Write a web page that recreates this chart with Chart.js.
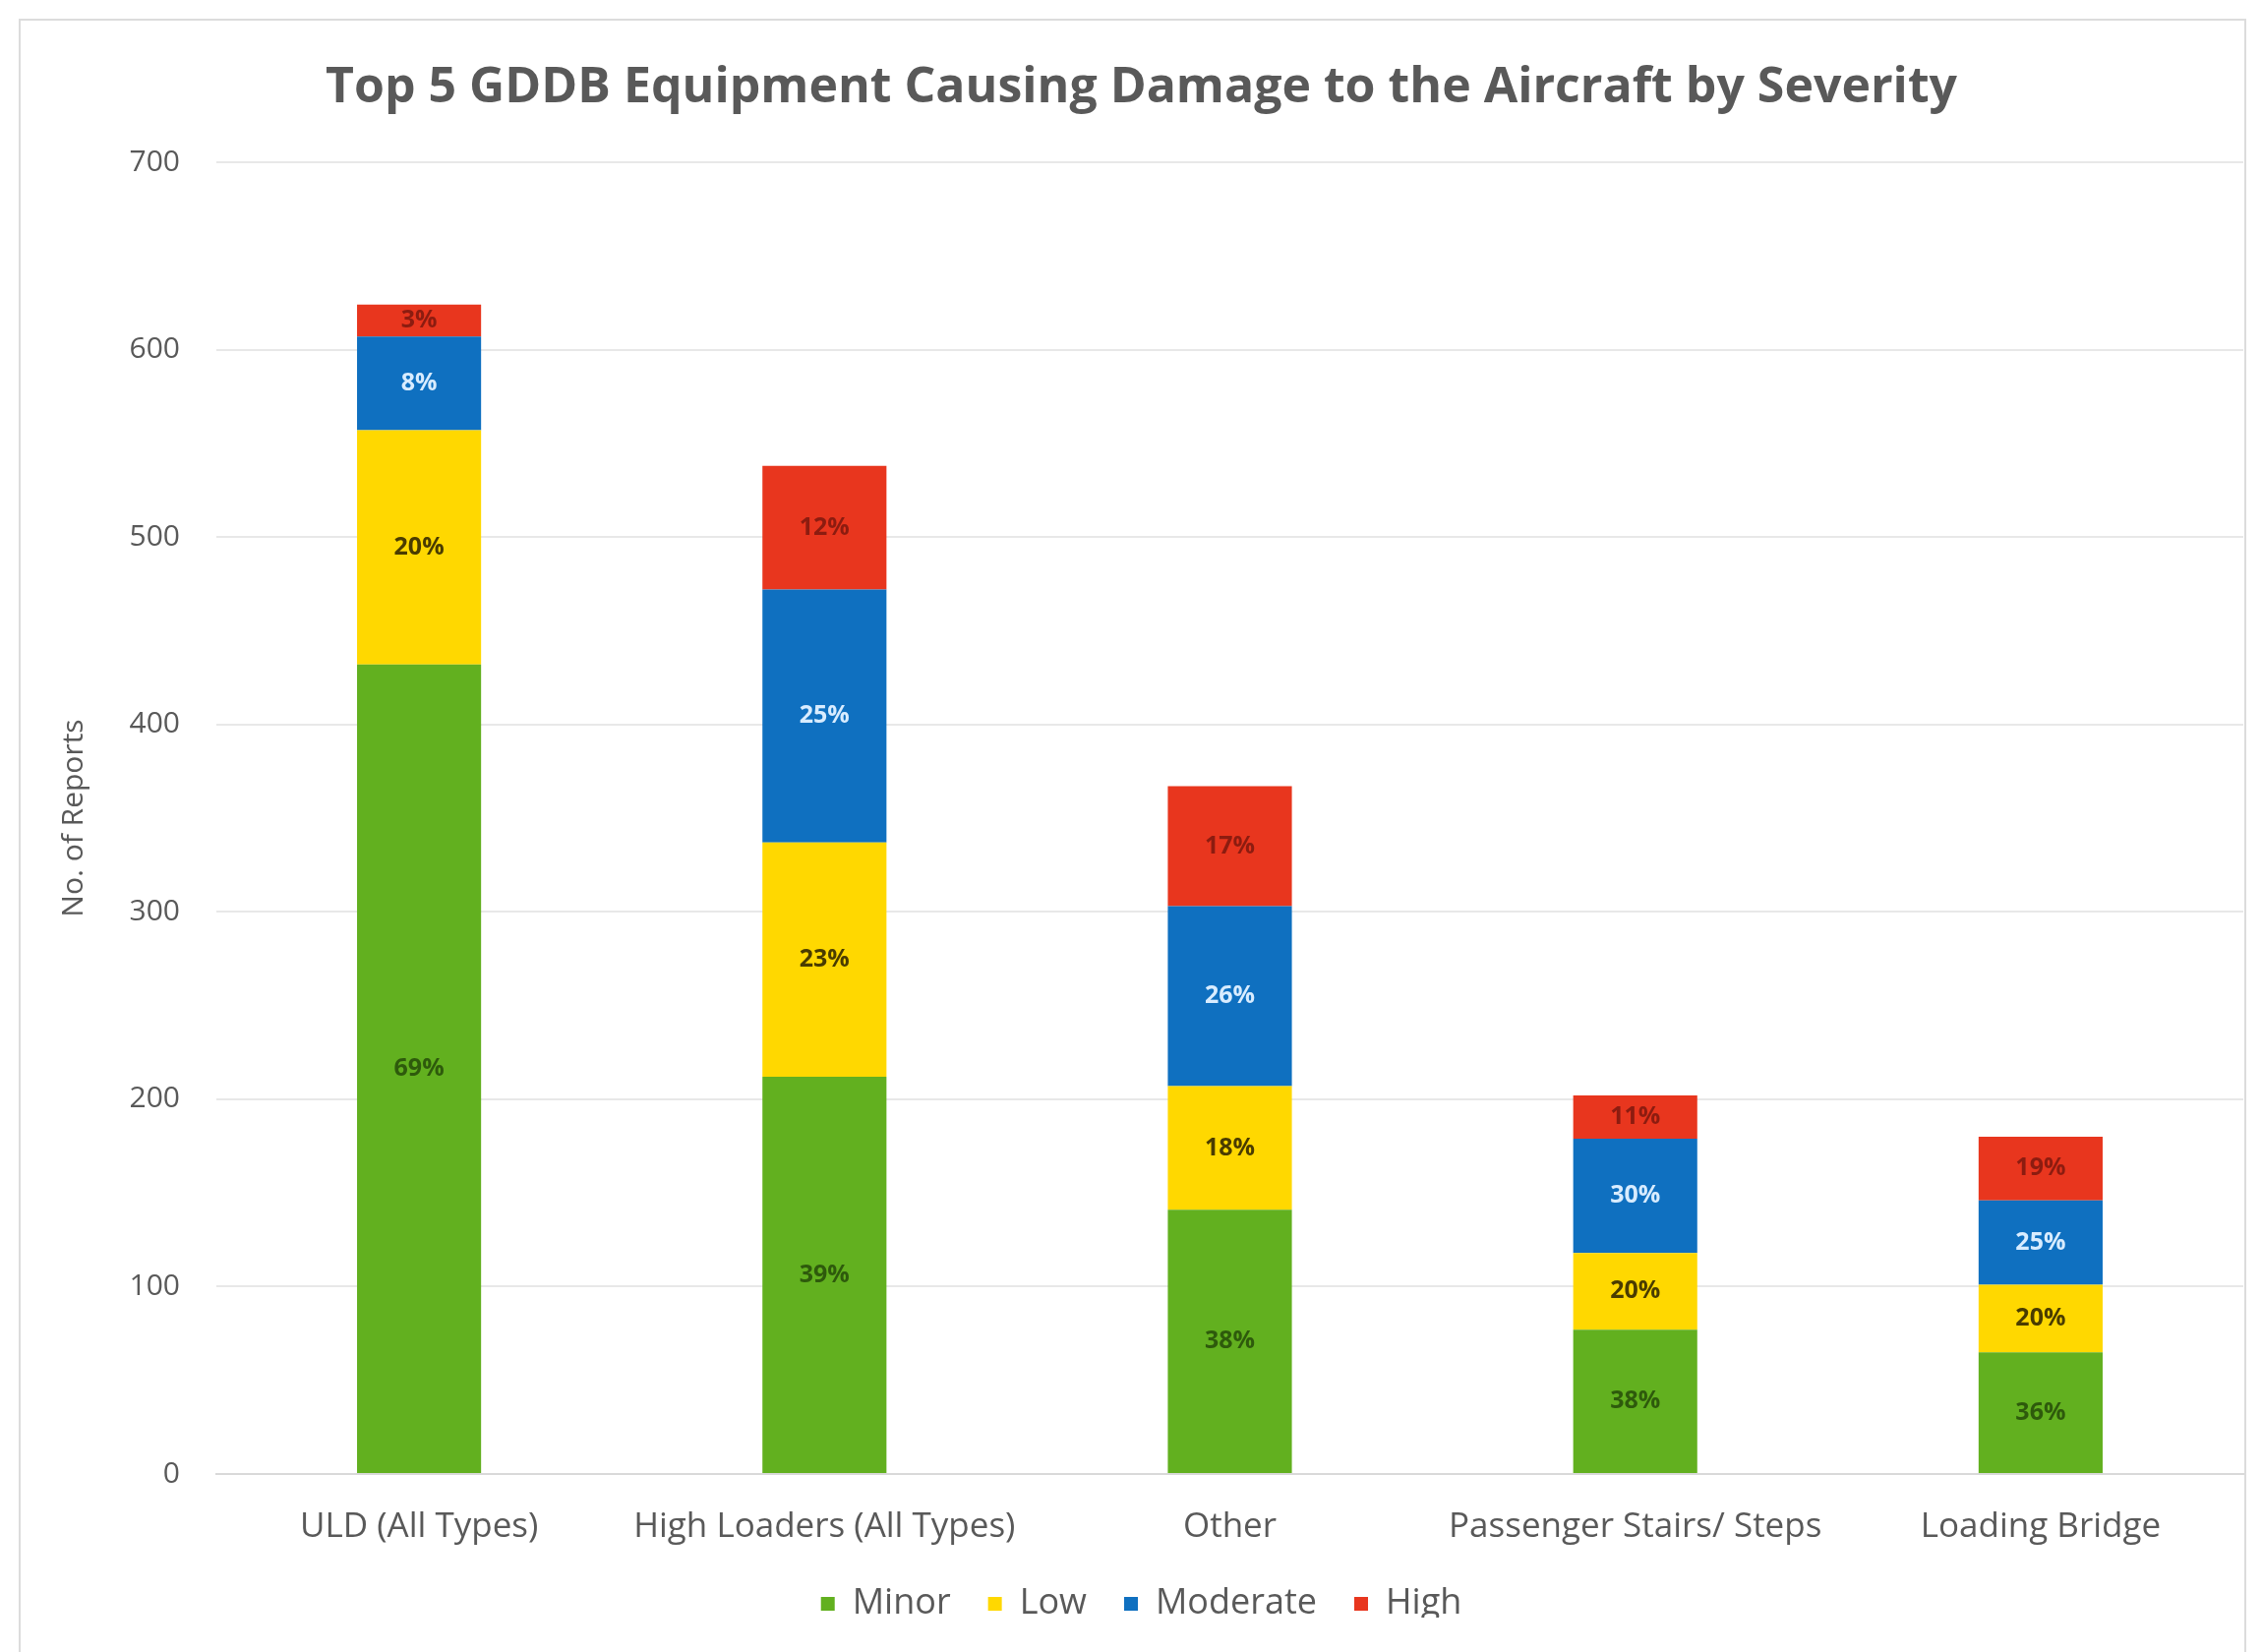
<!DOCTYPE html>
<html>
<head>
<meta charset="utf-8">
<title>Top 5 GDDB Equipment Causing Damage to the Aircraft by Severity</title>
<script src="https://cdn.jsdelivr.net/npm/chart.js@4.4.1/dist/chart.umd.min.js"></script>
<style>
  html, body { margin: 0; padding: 0; background: #fff; }
  #wrap { position: relative; width: 2300px; height: 1680px; overflow: hidden; }
  #chart { position: absolute; left: 0; top: 0; }
  #frame { position: absolute; left: 19px; top: 19px; width: 2261px; height: 1720px; border: 2px solid #dcdcdc; pointer-events: none; }
</style>
</head>
<body>
<div id="wrap">
  <canvas id="chart" width="2300" height="1680"></canvas>
  <div id="frame"></div>
</div>
<script>
// equipment types and report counts per severity
const categories = ['ULD (All Types)', 'High Loaders (All Types)', 'Other', 'Passenger Stairs/ Steps', 'Loading Bridge'];
const minor    = [432, 212, 141, 77, 65];
const low      = [125, 125,  66, 41, 36];
const moderate = [ 50, 135,  96, 61, 45];
const high     = [ 17,  66,  64, 23, 34];

const severityNames = ['Minor', 'Low', 'Moderate', 'High'];
const yMax = 700;
const yStep = 100;

const totals = categories.map((c, i) => minor[i] + low[i] + moderate[i] + high[i]);

const textColor = '#595959';
const fillColors = ['#62B01F', '#FFD800', '#0F70C0', '#E8361E'];
const pctColors = ['#2E5A0C', '#4A3C00', '#D8ECFF', '#8C1C10'];

Chart.defaults.font.family = '"Open Sans", "Liberation Sans", sans-serif';

// percentage of each bar's total, written in the middle of every segment
const segmentLabels = {
    id: 'segmentLabels',
    afterDatasetsDraw(chart) {
        const ctx = chart.ctx;
        ctx.save();
        ctx.font = 'bold 25px "Open Sans", sans-serif';
        ctx.textAlign = 'center';
        ctx.textBaseline = 'middle';
        chart.data.datasets.forEach((ds, i) => {
            const meta = chart.getDatasetMeta(i);
            meta.data.forEach((bar, j) => {
                const pct = Math.round(ds.data[j] / totals[j] * 100) + '%';
                ctx.fillStyle = pctColors[i];
                ctx.fillText(pct, bar.x, (bar.y + bar.base) / 2);
            });
        });
        ctx.restore();
    }
};

const seriesData = [minor, low, moderate, high];

new Chart(document.getElementById('chart'), {
    type: 'bar',
    data: {
        labels: categories,
        datasets: severityNames.map((name, i) => ({
            label: name,
            data: seriesData[i],
            backgroundColor: fillColors[i],
            borderWidth: 0
        }))
    },
    options: {
        responsive: false,
        devicePixelRatio: 1,
        animation: false,
        layout: { padding: { left: 40, right: 19, top: 0, bottom: 35 } },
        datasets: { bar: { barPercentage: 0.306, categoryPercentage: 1 } },
        plugins: {
            title: {
                display: true,
                text: 'Top 5 GDDB Equipment Causing Damage to the Aircraft by Severity',
                color: textColor,
                font: { size: 50, weight: 'bold' },
                padding: { top: 60, bottom: 45 }
            },
            legend: {
                position: 'bottom',
                maxHeight: 70,
                labels: {
                    boxWidth: 14,
                    boxHeight: 14,
                    color: textColor,
                    font: { size: 36 },
                    padding: 38
                }
            },
            tooltip: { enabled: false }
        },
        scales: {
            x: {
                stacked: true,
                grid: { display: false },
                border: { color: '#d9d9d9', width: 2 },
                ticks: { color: textColor, font: { size: 35 }, padding: 25, maxRotation: 0 },
                afterFit(scale) { scale.height = 76; }
            },
            y: {
                stacked: true,
                min: 0,
                max: yMax,
                ticks: { stepSize: yStep, color: textColor, font: { size: 30 }, padding: 37 },
                grid: { color: '#e8e8e8', lineWidth: 2, drawTicks: false },
                border: { display: false },
                title: { display: true, text: 'No. of Reports', color: textColor, font: { size: 30 }, padding: { top: 17 } },
                afterFit(scale) { scale.width = 180; }
            }
        }
    },
    plugins: [segmentLabels]
});
</script>
</body>
</html>
